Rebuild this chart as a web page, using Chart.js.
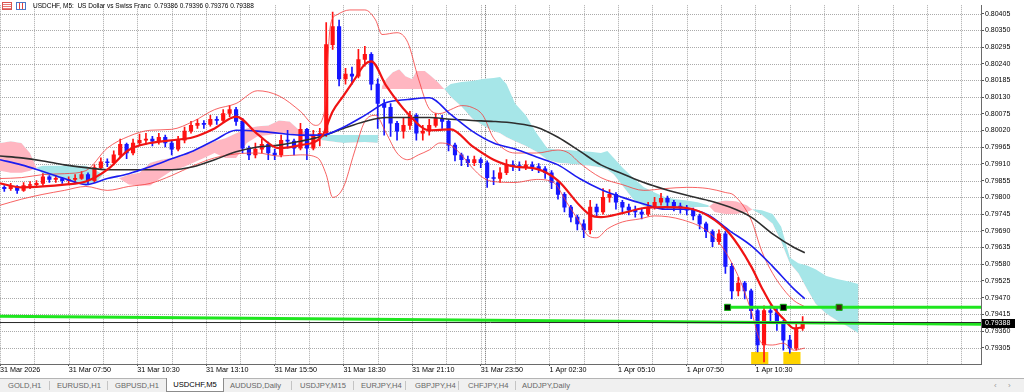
<!DOCTYPE html>
<html>
<head>
<meta charset="utf-8">
<title>USDCHF, M5</title>
<script src="https://cdn.jsdelivr.net/npm/chart.js@4.4.1/dist/chart.umd.min.js"></script>
<style>
html,body{margin:0;padding:0;background:#fff;}
body{width:1024px;height:392px;overflow:hidden;position:relative;font-family:"Liberation Sans",Arial,sans-serif;}
#c{position:absolute;left:0;top:0;}
.ico{position:absolute;top:2px;width:10px;height:8px;box-sizing:border-box;}
#title{position:absolute;left:33px;top:1px;font-size:6.5px;line-height:10px;color:#000;white-space:pre;}
#tabs{position:absolute;left:0;top:378px;width:1024px;height:14px;background:#f0f0f0;border-top:1px solid #b4b4b4;box-sizing:border-box;font-size:7.6px;color:#666;}
.tab{position:absolute;top:0;line-height:13px;white-space:nowrap;}
.sep{position:absolute;top:2px;width:1px;height:9px;background:#c4c4c4;}
.act{position:absolute;top:-1px;height:14px;background:#fff;border:1px solid #8c8c8c;border-top:none;box-sizing:border-box;color:#000;text-align:center;line-height:13px;}
.arr{position:absolute;top:0;line-height:13px;color:#9a9a9a;font-size:8px;}
</style>
</head>
<body>
<canvas id="c" width="1024" height="378" style="width:1024px;height:378px"></canvas>
<span class="ico" style="left:2px;border:1px solid #d9534f;background:repeating-linear-gradient(#fff 0 1px,#e87a76 1px 2px)"></span>
<span class="ico" style="left:16px;border:1px solid #4a78c8;background:linear-gradient(90deg,#fff 0 2px,#e04040 2px 3px,#fff 3px 5px,#e04040 5px 6px,#fff 6px)"></span>
<div id="title">USDCHF, M5:  US Dollar vs Swiss Franc  0.79386 0.79396 0.79376 0.79388</div>
<div id="tabs"></div>
<script>
// ================= DATA (prices in points, 1 point = 0.00001) =================
// x axis = M5 bar number counted from 31 Mar 05:10
const xTickBars   = [0,32,64,96,128,160,192,224,256,288,320,352];
const xTickLabels = ['31 Mar 2026','31 Mar 07:50','31 Mar 10:30','31 Mar 13:10','31 Mar 15:50','31 Mar 18:30',
                     '31 Mar 21:10','31 Mar 23:50','1 Apr 02:30','1 Apr 05:10','1 Apr 07:50','1 Apr 10:30'];
const yTicks = [0.80405,0.80350,0.80295,0.80240,0.80185,0.80130,0.80075,0.80020,0.79965,0.79910,0.79855,
                0.79800,0.79745,0.79690,0.79635,0.79580,0.79525,0.79470,0.79415,0.79360,0.79305];
const daySeparators = [226];

// candles (15-minute groups, first at bar 2, one every 3 bars)
const FIRST_BAR = 2, BAR_STEP = 3;
const opens = [79833,79829,79836,79823,79839,79842,79846,79868,79859,79862,
79855,79859,79862,79875,79855,79898,79917,79914,79940,79975,
79946,79979,79988,79992,79985,79998,79979,79959,79988,80018,
80037,80044,80040,80057,80053,80076,80089,80050,79962,79940,
79959,79975,79946,79940,79988,79985,79962,80024,79962,80001,
80011,80303,80362,80190,80206,80199,80254,80271,80173,80109,
80096,80044,80018,80037,80070,80011,80018,80037,80060,80050,
79972,79940,79924,79914,79924,79914,79865,79862,79881,79907,
79904,79901,79907,79901,79894,79881,79849,79810,79768,79735,
79713,79693,79768,79752,79800,79810,79784,79768,79758,79752,
79745,79768,79784,79797,79784,79771,79765,79758,79739,79713,
79687,79654,79680,79573,79492,79518,79492,79427,79314,79427,
79421,79388,79330,79304,79369];
const highs = [79839,79846,79839,79849,79852,79855,79878,79872,79872,79865,
79868,79875,79885,79881,79907,79930,79927,79953,79992,79979,
79992,80008,80011,80001,80011,80005,79988,80001,80031,80050,
80057,80053,80070,80066,80089,80102,80096,80060,79969,79979,
79992,79982,79959,80005,80021,79992,80044,80027,80021,80027,
80375,80410,80384,80225,80229,80287,80297,80277,80190,80122,
80109,80050,80063,80083,80076,80037,80057,80076,80070,80057,
79979,79946,79936,79936,79930,79920,79888,79898,79924,79920,
79917,79920,79917,79911,79901,79888,79855,79816,79774,79742,
79726,79790,79778,79829,79826,79816,79790,79778,79771,79765,
79784,79800,79813,79804,79790,79781,79774,79765,79745,79719,
79693,79693,79687,79583,79537,79524,79498,79434,79443,79443,
79434,79395,79346,79385,79408];
const lows = [79820,79823,79813,79820,79829,79833,79839,79849,79849,79846,
79846,79846,79859,79842,79849,79891,79901,79907,79933,79927,
79940,79972,79975,79969,79975,79966,79940,79953,79979,80011,
80027,80027,80034,80040,80047,80066,80037,79946,79924,79930,
79946,79924,79924,79933,79962,79940,79956,79924,79956,79969,
80001,80287,80167,80173,80173,80193,80232,80154,80027,80005,
80001,79988,79995,80024,79988,79988,80005,80031,80027,79953,
79920,79904,79901,79904,79898,79833,79842,79849,79875,79888,
79888,79891,79888,79881,79862,79829,79794,79752,79719,79693,
79667,79680,79739,79745,79784,79761,79752,79742,79735,79729,
79739,79761,79774,79765,79755,79748,79742,79726,79696,79667,
79638,79645,79550,79466,79476,79466,79401,79291,79258,79388,
79362,79297,79287,79297,79362];
const closes = [79829,79836,79823,79839,79842,79846,79868,79859,79862,79855,
79859,79862,79875,79855,79898,79917,79914,79940,79975,79946,
79979,79988,79992,79985,79998,79979,79959,79988,80018,80037,
80044,80040,80057,80053,80076,80089,80050,79962,79940,79959,
79975,79946,79940,79988,79985,79962,80024,79962,80001,80011,
80303,80362,80190,80206,80199,80254,80271,80173,80109,80096,
80044,80018,80037,80070,80011,80018,80037,80060,80050,79972,
79940,79924,79914,79924,79914,79865,79862,79881,79907,79904,
79901,79907,79901,79894,79881,79849,79810,79768,79735,79713,
79693,79768,79752,79800,79810,79784,79768,79758,79752,79745,
79768,79784,79797,79784,79771,79765,79758,79739,79713,79687,
79654,79680,79573,79492,79518,79492,79427,79314,79427,79421,
79388,79330,79304,79369,79388];

// moving averages
const maBars = [0,10,20,30,40,50,60,70,80,90,100,110,120,130,140,150,160,170,180,190,200,210,220,230,240,250,260,270,280,290,300,310,320,330,340,350,360,370,375];
const maSlow = [79936,79930,79920,79907,79898,79891,79891,79891,79891,79901,79924,79950,79966,79972,79985,80001,80027,80050,80063,80063,80063,80057,80053,80050,80044,80031,79998,79953,79907,79878,79849,79826,79807,79790,79768,79735,79680,79635,79618];
const maMid  = [79924,79907,79885,79862,79842,79862,79878,79901,79927,79953,79988,80021,80018,80011,80005,80005,80031,80070,80112,80122,80128,80073,80018,79979,79959,79933,79907,79862,79826,79800,79778,79761,79761,79742,79690,79641,79573,79498,79466];
const maFastBars = [0,10,20,30,40,50,60,70,80,90,100,110,120,130,140,150,155,160,165,170,173,180,190,200,210,220,230,240,250,260,270,275,280,290,300,310,320,330,340,350,355,360,365,370,374];
const maFast = [79846,79833,79836,79842,79852,79891,79956,79979,79988,79998,80027,80066,80008,79962,79972,80001,80083,80134,80186,80238,80248,80167,80076,80021,80024,79969,79924,79901,79894,79855,79774,79742,79735,79748,79765,79768,79765,79739,79680,79573,79502,79440,79401,79369,79372];

// Bollinger bands
const bbUpBars = [0,10,20,30,40,50,60,70,80,90,100,110,120,130,140,147,151,154,157,163,170,175,178,185,190,195,200,205,210,215,220,225,230,240,250,260,265,270,280,290,300,310,320,330,338,342,350,355,360,365,370,375];
const bbUp = [79862,79865,79875,79878,79888,79962,80001,80021,80024,80050,80089,80109,80151,80134,80083,80037,80076,80368,80401,80417,80417,80384,80336,80342,80310,80190,80092,80076,80089,80102,80096,80070,79995,79946,79946,79956,79946,79914,79865,79842,79823,79829,79833,79829,79816,79807,79726,79622,79550,79498,79460,79440];
const bbLoBars = [0,10,20,30,40,50,60,70,80,90,100,110,120,130,140,148,152,155,160,165,170,175,180,185,190,195,200,205,210,215,220,225,230,240,250,258,264,270,274,278,283,290,298,305,318,330,337,345,350,355,360,365,370,375];
const bbLo = [79774,79794,79810,79823,79836,79823,79836,79846,79872,79904,79930,79943,79946,79936,79940,79930,79875,79800,79833,79946,80050,80070,80011,79946,79924,79940,79956,79979,79972,79940,79898,79865,79852,79849,79859,79849,79784,79719,79674,79667,79696,79719,79729,79739,79726,79687,79632,79524,79427,79320,79314,79320,79297,79304];

// Ichimoku cloud (Senkou span A / B, shifted forward)
const cloudBars = [0,5,10,14,17,20,30,40,45,48,55,60,65,70,75,80,85,90,95,100,105,110,115,120,125,130,135,140,145,148,150,160,170,176,178,180,183,186,189,192,194,198,201,204,207,210,215,220,225,230,233,236,240,245,250,255,260,265,270,275,280,283,286,290,295,300,305,310,315,320,325,330,333,338,343,348,351,355,360,364,368,372,376,380,385,390,395,400];
const spanA = [79888,79881,79881,79888,79898,79904,79904,79904,79888,79875,79865,79842,79839,79839,79865,79888,79898,79914,79930,79946,79930,79930,79979,80001,80005,80011,80011,80001,79998,80005,80005,80005,80005,80005,80157,80157,80157,80157,80157,80157,80157,80157,80157,80157,80157,80173,80180,80183,80190,80193,80196,80173,80109,80070,80011,79962,79956,79956,79953,79950,79946,79953,79930,79898,79865,79833,79816,79800,79794,79790,79784,79774,79752,79745,79745,79752,79761,79758,79745,79703,79602,79583,79576,79563,79541,79531,79524,79515];
const spanB = [79979,79985,79979,79946,79898,79875,79859,79839,79849,79875,79862,79875,79881,79914,79924,79930,79936,79953,79969,79985,79995,80011,80027,80034,80037,80053,80050,80018,80011,80005,79988,79979,79982,79979,80167,80190,80212,80222,80199,80190,80216,80216,80199,80180,80157,80131,80099,80060,80037,80018,80011,79998,79985,79969,79950,79924,79914,79911,79907,79904,79898,79891,79875,79839,79794,79771,79765,79761,79761,79765,79768,79768,79784,79790,79787,79774,79758,79742,79713,79654,79583,79550,79498,79450,79417,79395,79375,79352];

// drawn objects
const VIEW_BARS = 457.1;
const GRID_STEP = 16;
const trendBars = [0, VIEW_BARS], trendVals = [79409, 79382];
const levelBars = [338, VIEW_BARS], levelVals = [79438, 79438];
const markerBars = [339, 365, 391], markerVals = [79438, 79438, 79438];
const markerFill = ['#000000', '#000000', '#4a2410'];
const boxStart = [350, 365], boxEnd = [358, 373], boxTop = [79291, 79291];
const BID = 79388;

// ================= CHART =================
const P = v => v * 1e-5;
const pts = (bars, vals) => bars.map((b, i) => ({x: b, y: P(vals[i])}));
const candleX = opens.map((_, k) => FIRST_BAR + BAR_STEP * k);
const UP = '#ff1212', DN = '#1616ff';
const cColor = ctx => closes[ctx.dataIndex] >= opens[ctx.dataIndex] ? UP : DN;
const Y_MAX = 0.804326, Y_MIN = 0.792515;
const FONT = 'Liberation Sans';
const GRID = '#aaaaaa';

function line(bars, vals, color, width, order) {
  return {type: 'line', data: pts(bars, vals), borderColor: color, borderWidth: width,
          pointRadius: 0, fill: false, cubicInterpolationMode: 'monotone', order: order};
}

const overlay = {
  id: 'overlay',
  beforeDatasetsDraw(chart) {
    const {ctx, chartArea: a, scales: {x, y}} = chart;
    ctx.save();
    // dotted grid
    ctx.strokeStyle = GRID; ctx.lineWidth = 1; ctx.setLineDash([1, 1]);
    for (let b = 0; b <= VIEW_BARS; b += GRID_STEP) {
      const px = Math.round(x.getPixelForValue(b)) + 0.5;
      ctx.beginPath(); ctx.moveTo(px, a.top); ctx.lineTo(px, a.bottom); ctx.stroke();
    }
    yTicks.forEach(v => {
      const py = Math.round(y.getPixelForValue(v)) + 0.5;
      ctx.beginPath(); ctx.moveTo(a.left, py); ctx.lineTo(a.right, py); ctx.stroke();
    });
    // day separator
    ctx.strokeStyle = '#6e6e6e';
    daySeparators.forEach(b => {
      const px = Math.round(x.getPixelForValue(b)) + 0.5;
      ctx.beginPath(); ctx.moveTo(px, a.top); ctx.lineTo(px, a.bottom); ctx.stroke();
    });
    ctx.setLineDash([]);
    ctx.fillStyle = '#ffd400';
    boxStart.forEach((s, i) => {
      const x1 = x.getPixelForValue(s), x2 = x.getPixelForValue(boxEnd[i]);
      const y1 = y.getPixelForValue(P(boxTop[i]));
      ctx.fillRect(x1, y1, x2 - x1, a.bottom - y1);
    });
    ctx.restore();
  },
  afterDraw(chart) {
    const {ctx, chartArea: a, scales: {y}} = chart;
    const py = Math.round(y.getPixelForValue(P(BID)));
    ctx.save();
    ctx.fillStyle = '#000';
    ctx.fillRect(a.right + 1, py - 4, 33, 9);
    ctx.fillStyle = '#fff';
    ctx.font = '7px "' + FONT + '"';
    ctx.textBaseline = 'middle'; ctx.textAlign = 'left';
    ctx.fillText(P(BID).toFixed(5), a.right + 4, py + 0.5);
    ctx.restore();
  }
};

Chart.defaults.font.family = FONT;

new Chart(document.getElementById('c'), {
  type: 'line',
  data: {
    datasets: [
      {type: 'line', data: pts(cloudBars, spanA), borderColor: 'rgba(0,0,0,0)', borderWidth: 0, pointRadius: 0,
       fill: {target: '+1', above: '#a6e6e8', below: '#ffb6c1'}, order: 20},
      {type: 'line', data: pts(cloudBars, spanB), borderColor: 'rgba(0,0,0,0)', borderWidth: 0, pointRadius: 0,
       fill: false, order: 20},
      {type: 'bar', data: candleX.map((b, k) => ({x: b, y: [P(lows[k]), P(highs[k])]})),
       backgroundColor: cColor, barThickness: 1, grouped: false, order: 9},
      {type: 'bar', data: candleX.map((b, k) => ({x: b, y: [P(opens[k]), P(closes[k])]})),
       backgroundColor: cColor, barThickness: 3.5, minBarLength: 1, grouped: false, order: 8},
      line(bbUpBars, bbUp, 'rgba(245,60,60,0.8)', 1, 6),
      line(bbLoBars, bbLo, 'rgba(245,60,60,0.8)', 1, 6),
      line(maBars, maSlow, '#2e2e2e', 1.6, 5),
      line(maBars, maMid, '#1c1cf0', 1.6, 4),
      line(maFastBars, maFast, '#f01414', 2.2, 3),
      {type: 'line', data: pts(trendBars, trendVals), borderColor: '#1ee61e', borderWidth: 3, pointRadius: 0, order: 2},
      {type: 'line', data: pts(levelBars, levelVals), borderColor: '#1ee61e', borderWidth: 3, pointRadius: 0, order: 2},
      {type: 'line', data: [{x: 0, y: P(BID)}, {x: VIEW_BARS, y: P(BID)}], borderColor: '#262626', borderWidth: 1, pointRadius: 0, order: 1},
      {type: 'line', data: pts(markerBars, markerVals), showLine: false, pointStyle: 'rect', pointRadius: 4.3,
       pointBackgroundColor: markerFill, pointBorderColor: '#12b012', pointBorderWidth: 1, order: 0}
    ]
  },
  options: {
    responsive: false, animation: false, devicePixelRatio: 1, events: [],
    layout: {padding: 0, autoPadding: false},
    plugins: {legend: {display: false}, tooltip: {enabled: false}},
    scales: {
      x: {
        type: 'linear', min: 0, max: VIEW_BARS, offset: false,
        afterBuildTicks: s => { s.ticks = xTickBars.map(v => ({value: v})); },
        afterFit: s => { s.height = 14; },
        ticks: {autoSkip: false, maxRotation: 0, minRotation: 0, align: 'start', padding: 0, color: '#000',
                font: {size: 7.2},
                callback: v => { const i = xTickBars.indexOf(v); return i >= 0 ? xTickLabels[i] : ''; }},
        grid: {drawOnChartArea: false, color: '#555', offset: false, tickLength: 2, tickColor: '#555'},
        border: {display: true, color: '#6a6a6a', width: 1}
      },
      y: {
        type: 'linear', position: 'right', min: Y_MIN, max: Y_MAX, beginAtZero: false,
        afterBuildTicks: s => { s.ticks = yTicks.map(v => ({value: v})); },
        afterFit: s => { s.width = 43; },
        ticks: {autoSkip: false, padding: 1, color: '#000', font: {size: 7}, callback: v => Number(v).toFixed(5)},
        grid: {drawOnChartArea: false, color: '#555', tickLength: 3, tickColor: '#555'},
        border: {display: true, color: '#6a6a6a', width: 1}
      }
    }
  },
  plugins: [overlay]
});

// ================= TAB BAR =================
const tabNames = ['GOLD,H1','EURUSD,H1','GBPUSD,H1','USDCHF,M5','AUDUSD,Daily','USDJPY,M15','EURJPY,H4','GBPJPY,H4','CHFJPY,H4','AUDJPY,Daily'];
const tabLeft = [8,57,115,173,230,300,361,415,468,522];
const sepLeft = [49,107,291,353,405,458,515];
const ACTIVE = 3;
const tabs = document.getElementById('tabs');
tabNames.forEach((n, i) => {
  const el = document.createElement('div');
  if (i === ACTIVE) { el.className = 'act'; el.style.left = '166px'; el.style.width = '58px'; }
  else { el.className = 'tab'; el.style.left = tabLeft[i] + 'px'; }
  el.textContent = n;
  tabs.appendChild(el);
});
sepLeft.forEach(l => { const s = document.createElement('div'); s.className = 'sep'; s.style.left = l + 'px'; tabs.appendChild(s); });
[['\u2039', 994], ['\u203A', 1008]].forEach(([t, l]) => { const a = document.createElement('div'); a.className = 'arr'; a.style.left = l + 'px'; a.textContent = t; tabs.appendChild(a); });
</script>
</body>
</html>
